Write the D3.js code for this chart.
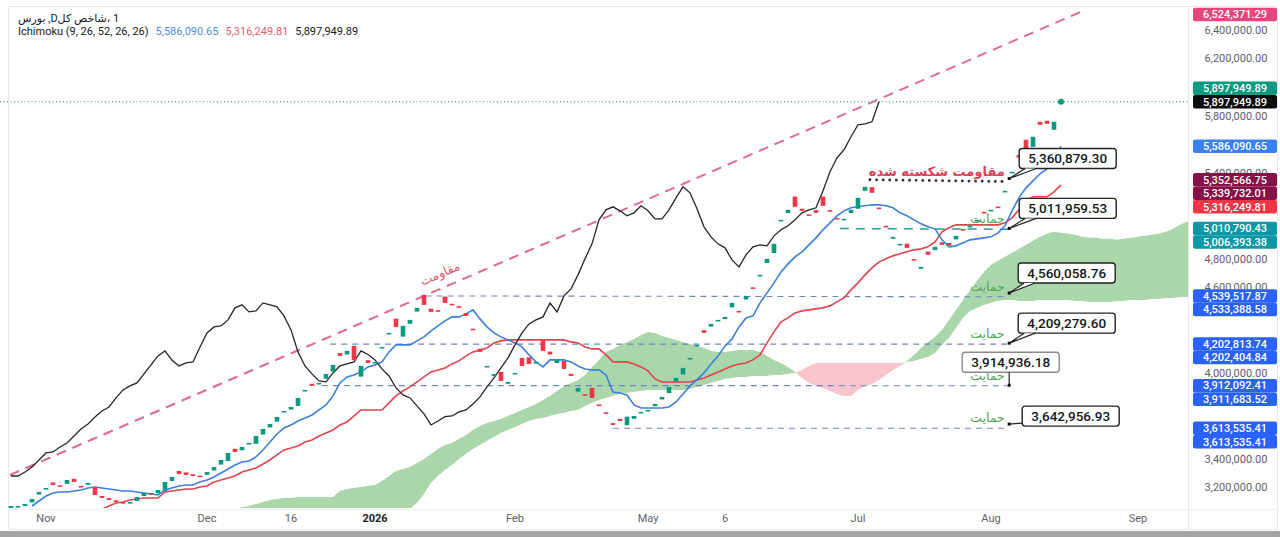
<!DOCTYPE html>
<html>
<head>
<meta charset="utf-8">
<script src="https://cdnjs.cloudflare.com/ajax/libs/d3/7.8.5/d3.min.js"></script>
<style>
body { margin: 0; background: #fff; }
svg { display: block; font-family: Roboto, "DejaVu Sans", sans-serif; }
</style>
</head>
<body>
<svg id="chart" width="1280" height="537"></svg>
<script>
// all prices in thousands, one entry per daily bar (bar 0 .. 150)
var closes = [3070,3070,3084,3119,3168,3196,3217,3210,3252,3238,
  3203,3231,3147,3126,3112,3098,3091,3098,3133,3161,
  3154,3182,3238,3273,3294,3287,3280,3280,3308,3343,
  3392,3441,3448,3483,3511,3560,3609,3644,3693,3735,
  3763,3826,3882,3910,3931,3994,4057,4120,4155,4090,
  4050,4071,4078,4183,4281,4323,4330,4372,4456,4477,
  4428,4435,4491,4477,4463,4400,4302,4148,4050,3994,
  3945,3938,4001,4050,4064,4078,4155,4130,4092,4029,
  3980,3896,3847,3826,3770,3714,3637,3665,3695,3700,
  3728,3742,3784,3833,3903,3966,4036,4106,4197,4281,
  4344,4372,4393,4491,4428,4540,4589,4687,4799,4904,
  5072,5142,5163,5135,5100,5121,5170,5135,5079,5079,
  5142,5226,5303,5261,5149,5023,4953,4904,4876,4792,
  4743,4827,4883,4897,4890,4960,5002,5030,5072,5121,
  5142,5156,5275,5408,5506,5562,5653,5737,5744,5758,
  5897.95];
var opens = [3055,3060,3070,3095,3150,3185,3235,3215,3225,3260,
  3210,3218,3203,3140,3125,3110,3098,3093,3105,3140,
  3160,3160,3175,3245,3315,3305,3292,3283,3288,3318,
  3360,3385,3470,3460,3500,3505,3570,3620,3660,3730,
  3745,3770,3875,3925,3920,3960,4010,4140,4130,4190,
  3975,4090,4070,4175,4272,4380,4255,4345,4430,4547,
  4450,4440,4535,4485,4468,4420,4310,4170,4040,3980,
  4008,3925,3995,4106,4110,4070,4230,4150,4070,4085,
  3995,3870,3852,3896,3780,3725,3650,3680,3635,3680,
  3722,3735,3768,3815,3860,3940,3990,4100,4190,4300,
  4325,4365,4378,4460,4435,4515,4600,4678,4770,4840,
  5065,5120,5235,5150,5110,5140,5235,5140,5085,5070,
  5120,5150,5275,5300,5158,5030,4940,4895,4905,4798,
  4730,4850,4860,4915,4910,4935,5008,5025,5065,5128,
  5138,5165,5265,5398,5525,5632,5583,5758,5765,5702,
  5890];

var tenkanStart = 3;
var tenkan = [3070,3105,3140,3161,3168,3168,3175,3182,3196,3203,
  3196,3189,3182,3175,3175,3168,3161,3154,3147,3182,
  3196,3210,3217,3217,3238,3252,3273,3301,3329,3357,
  3378,3385,3413,3462,3518,3574,3616,3637,3665,3686,
  3707,3742,3777,3840,3931,3973,3987,4008,4043,4057,
  4078,4148,4197,4197,4197,4225,4253,4295,4330,4365,
  4393,4393,4414,4442,4379,4323,4281,4253,4232,4211,
  4183,4127,4078,4043,4092,4092,4092,4078,4050,4029,
  4022,4022,3987,3868,3861,3847,3777,3756,3756,3756,
  3756,3763,3798,3854,3910,3952,4001,4064,4120,4190,
  4239,4323,4386,4400,4491,4561,4631,4708,4764,4813,
  4848,4897,4946,5002,5051,5100,5135,5156,5163,5170,
  5177,5177,5170,5156,5121,5100,5072,5044,5023,5009,
  4932,4883,4890,4911,4932,4939,4946,4953,4981,5030,
  5135,5226,5296,5345,5394,5429,5492,5586.09];

var kijunStart = 13;
var kijun = [3049,3070,3091,3098,3112,3119,3126,3126,3126,3168,
  3175,3182,3189,3189,3203,3210,3238,3252,3266,3280,
  3308,3322,3336,3364,3392,3427,3462,3476,3490,3518,
  3532,3560,3581,3602,3637,3658,3700,3742,3742,3742,
  3742,3791,3840,3875,3903,3938,3973,4008,4022,4036,
  4064,4085,4120,4148,4162,4176,4211,4225,4232,4232,
  4232,4232,4232,4232,4232,4232,4232,4218,4211,4183,
  4169,4169,4127,4078,4078,4078,4064,4043,4015,3959,
  3938,3938,3938,3938,3938,3952,3966,3987,4008,4029,
  4050,4064,4071,4092,4127,4211,4288,4358,4386,4421,
  4435,4442,4449,4456,4470,4498,4526,4582,4631,4687,
  4736,4778,4799,4820,4834,4848,4862,4869,4883,4918,
  4988,5016,5037,5037,5037,5037,5037,5037,5037,5051,
  5086,5142,5205,5233,5233,5233,5268,5316.25];

// leading spans, already plotted 26 bars ahead (bar 32 .. 169)
var spanStart = 32;
var spanA = [3042,3063,3070,3084,3098,3112,3119,3126,3126,3133,
  3133,3133,3133,3133,3133,3175,3189,3196,3203,3210,
  3217,3245,3280,3315,3329,3343,3371,3399,3434,3469,
  3497,3511,3539,3567,3602,3630,3651,3665,3679,3700,
  3721,3742,3763,3784,3812,3840,3875,3910,3931,3952,
  3987,4043,4092,4148,4169,4197,4218,4239,4267,4288,
  4281,4260,4246,4232,4218,4204,4190,4176,4155,4148,
  4148,4155,4162,4162,4162,4148,4120,4092,4071,4043,
  4008,3966,3931,3910,3896,3875,3854,3840,3840,3882,
  3910,3924,3952,3987,4022,4050,4085,4127,4176,4218,
  4253,4302,4372,4442,4512,4582,4645,4708,4757,4785,
  4813,4841,4869,4897,4925,4953,4974,4988,4981,4974,
  4967,4953,4946,4946,4939,4939,4932,4939,4946,4953,
  4960,4967,4974,4988,5009,5037,5058,5079];
var spanB = [2560,2575,2590,2600,2610,2620,2630,2640,2650,2660,
  2670,2680,2690,2700,2720,2740,2760,2780,2800,2815,
  2832,2902,2958,2986,3021,3049,3091,3154,3231,3280,
  3322,3357,3399,3434,3469,3497,3525,3553,3581,3602,
  3623,3644,3665,3679,3686,3700,3714,3721,3735,3742,
  3770,3791,3812,3826,3840,3854,3861,3868,3875,3882,
  3882,3882,3882,3882,3882,3889,3903,3917,3931,3945,
  3959,3966,3973,3973,3980,3980,3980,3987,3987,3994,
  4001,4022,4050,4071,4071,4071,4071,4071,4071,4071,
  4071,4071,4071,4071,4071,4071,4078,4085,4099,4113,
  4141,4197,4246,4316,4386,4435,4456,4477,4491,4505,
  4512,4512,4505,4505,4505,4512,4512,4512,4512,4512,
  4505,4505,4498,4498,4498,4498,4505,4505,4512,4512,
  4512,4519,4519,4526,4526,4533,4533,4533];
var chikouShift = 26;

var xTickLabels = ["Nov", "Dec", "16", "2026", "Feb", "May", "6", "Jul", "Aug", "Sep"];
var xTickBars = [5, 28, 40, 52, 72, 91, 102, 121, 140, 161];

// drawings
var trendBars = [-0.15, 152.7];
var trendValues = [3287000, 6524371.29];
var lineStartBars = [122.7, 118.4, 59.2, 45.6, 44.4, 86.0];
var lineEndBar = 142.4;
var lineStartValues = [5352566.75, 5010790.43, 4539517.87, 4202813.74, 3912092.41, 3613535.41];
var lineEndValues = [5339732.01, 5006393.38, 4533388.58, 4202404.84, 3911683.52, 3613535.41];
var lineTexts = ["مقاومت شکسته شده", "حمایت", "حمایت", "حمایت", "حمایت", "حمایت"];
var calloutBar = 142.6;
var calloutValues = [5360879.30, 5011959.53, 4560058.76, 4209279.60, 3914936.18, 3642956.93];

var priceLabels = [6524371.29, 5897949.89, 5897949.89, 5586090.65, 5352566.75, 5339732.01, 5316249.81,
  5010790.43, 5006393.38, 4539517.87, 4533388.58, 4202813.74, 4202404.84, 3912092.41, 3911683.52,
  3613535.41, 3613535.41];
var legendValues = [5586090.65, 5316249.81, 5897949.89];

var K = 1000;
var W = 1280, H = 537, plotRight = 1188, plotTop = 8, plotBottom = 508;
var green = "#089981", red = "#f23645";
var tenkanColor = "#3b7fe0", kijunColor = "#e2434f";

var x = d3.scaleLinear().domain([0, 150]).range([11, 1061]);
var y = d3.scaleLinear().domain([3056000, 6554000]).range([plotBottom, plotTop]);
var fmt = d3.format(",.2f");

var svg = d3.select("#chart");
svg.append("rect").attr("width", W).attr("height", H).attr("fill", "#fff");

var defs = svg.append("defs");
defs.append("clipPath").attr("id", "plot").append("rect")
    .attr("x", 0).attr("y", plotTop).attr("width", plotRight).attr("height", plotBottom - plotTop);

var cloud = spanA.map(function(a, k) { return {i: k + spanStart, a: a * K, b: spanB[k] * K}; });
defs.append("clipPath").attr("id", "aboveB").append("path")
    .attr("d", d3.area().x(function(d) { return x(d.i); }).y0(-1000).y1(function(d) { return y(d.b); })(cloud));
defs.append("clipPath").attr("id", "belowB").append("path")
    .attr("d", d3.area().x(function(d) { return x(d.i); }).y0(2000).y1(function(d) { return y(d.b); })(cloud));

// frame
svg.append("rect").attr("x", 8.5).attr("y", 6.5).attr("width", 1269).attr("height", 523)
    .attr("fill", "none").attr("stroke", "#e6e8ee");
svg.append("line").attr("x1", plotRight + 0.5).attr("x2", plotRight + 0.5).attr("y1", 6).attr("y2", 530)
    .attr("stroke", "#e6e8ee");
svg.append("line").attr("x1", 8).attr("x2", 1278).attr("y1", plotBottom + 1.5).attr("y2", plotBottom + 1.5)
    .attr("stroke", "#eceef2");
svg.append("rect").attr("x", 0).attr("y", 531).attr("width", W).attr("height", 6).attr("fill", "#a4a4a4");

var g = svg.append("g").attr("clip-path", "url(#plot)");

var cloudArea = d3.area()
    .x(function(d) { return x(d.i); })
    .y0(function(d) { return y(d.b); })
    .y1(function(d) { return y(d.a); });
g.append("path").attr("d", cloudArea(cloud)).attr("fill", "#a9d6aa").attr("clip-path", "url(#aboveB)");
g.append("path").attr("d", cloudArea(cloud)).attr("fill", "#f8c5ce").attr("clip-path", "url(#belowB)");

// horizontal level lines
var lineStroke = ["#3c2a32", "#2a9d8f", "#6f86b8", "#6f86b8", "#6f86b8", "#6f86b8"];
var lineDash = ["0.1,6.5", "9,7", "6,5", "6,5", "6,5", "6,5"];
var lineWidth = [2.8, 1.5, 1.1, 1.1, 1.1, 1.1];
lineStartValues.forEach(function(v, k) {
    g.append("line")
        .attr("x1", x(lineStartBars[k])).attr("y1", y(v))
        .attr("x2", x(lineEndBar)).attr("y2", y(lineEndValues[k]))
        .attr("stroke", lineStroke[k]).attr("stroke-width", lineWidth[k])
        .attr("stroke-dasharray", lineDash[k]).attr("stroke-linecap", k == 0 ? "round" : "butt");
});

// resistance trend line
g.append("line")
    .attr("x1", x(trendBars[0])).attr("y1", y(trendValues[0]))
    .attr("x2", x(trendBars[1])).attr("y2", y(trendValues[1]))
    .attr("stroke", "#e06b8b").attr("stroke-width", 2).attr("stroke-dasharray", "10,7");

// last price line
g.append("line").attr("x1", 0).attr("x2", plotRight)
    .attr("y1", y(closes[150] * K)).attr("y2", y(closes[150] * K))
    .attr("stroke", green).attr("stroke-width", 1).attr("stroke-dasharray", "1,2.5");

var line = d3.line().x(function(d) { return x(d[0]); }).y(function(d) { return y(d[1] * K); });
g.append("path").attr("d", line(kijun.map(function(v, k) { return [k + kijunStart, v]; })))
    .attr("fill", "none").attr("stroke", kijunColor).attr("stroke-width", 1.6);
g.append("path").attr("d", line(tenkan.map(function(v, k) { return [k + tenkanStart, v]; })))
    .attr("fill", "none").attr("stroke", tenkanColor).attr("stroke-width", 1.6);
g.append("path").attr("d", line(closes.slice(chikouShift).map(function(v, k) { return [k, v]; })))
    .attr("fill", "none").attr("stroke", "#262626").attr("stroke-width", 1.3);

// candles
var bw = 4.6;
g.append("g").selectAll("rect")
    .data(d3.range(closes.length))
    .enter().append("rect")
    .attr("x", function(i) { return x(i) - bw / 2; })
    .attr("y", function(i) { return y(Math.max(opens[i], closes[i]) * K); })
    .attr("width", bw)
    .attr("height", function(i) { return Math.max(1.6, Math.abs(y(opens[i] * K) - y(closes[i] * K))); })
    .attr("fill", function(i) { return closes[i] >= opens[i] ? green : red; });

g.append("circle").attr("cx", x(150)).attr("cy", y(closes[150] * K)).attr("r", 3).attr("fill", green);

// annotation texts
var ang = Math.atan2(y(trendValues[1]) - y(trendValues[0]), x(trendBars[1]) - x(trendBars[0])) * 180 / Math.PI;
var tb = 62.1;
var tv = trendValues[0] + (trendValues[1] - trendValues[0]) * (tb - trendBars[0]) / (trendBars[1] - trendBars[0]);
svg.append("text")
    .attr("transform", "translate(" + x(tb) + "," + y(tv) + ") rotate(" + ang + ")")
    .attr("y", -10).attr("text-anchor", "middle")
    .attr("fill", "#e2566f").attr("font-family", "DejaVu Sans").attr("font-size", 12.5)
    .text("مقاومت");

lineTexts.forEach(function(t, k) {
    svg.append("text")
        .attr("x", x(lineEndBar) - 3)
        .attr("y", y(lineEndValues[k]) - 6)
        .attr("text-anchor", "end")
        .attr("fill", k == 0 ? "#e03c56" : "#52a655")
        .attr("font-family", "DejaVu Sans").attr("font-size", k == 0 ? 13 : 12.5)
        .attr("font-weight", k == 0 ? 600 : "normal")
        .text(t);
});

// callouts
var boxW = 97, boxH = 20;
var boxDx = [10, 10, 9, 9, -47, 13];
var boxDy = [-30, -30, -30, -30, -33, -18];
var boxStroke = ["#222", "#222", "#222", "#222", "#8a8a8a", "#222"];
calloutValues.forEach(function(v, k) {
    var px = x(calloutBar), py = y(v);
    var bx = px + boxDx[k], by = py + boxDy[k];
    var cg = svg.append("g");
    cg.append("rect").attr("x", bx).attr("y", by).attr("width", boxW).attr("height", boxH)
        .attr("rx", 3).attr("fill", "#fff").attr("stroke", boxStroke[k]).attr("stroke-width", 1.4);
    if (boxDx[k] < 0) {
        cg.append("line").attr("x1", px).attr("x2", px).attr("y1", by + boxH).attr("y2", py)
            .attr("stroke", "#222").attr("stroke-width", 1.2);
    } else if (by + boxH > py) {
        cg.append("line").attr("x1", bx).attr("y1", by + boxH - 3).attr("x2", px).attr("y2", py)
            .attr("stroke", "#222").attr("stroke-width", 1.2);
    } else {
        cg.append("path")
            .attr("d", "M" + (bx + 6) + "," + (by + boxH) + "L" + px + "," + py + "L" + (bx + 17) + "," + (by + boxH))
            .attr("fill", "#fff").attr("stroke", "#222").attr("stroke-width", 1.2);
    }
    cg.append("rect").attr("x", px - 1.5).attr("y", py - 1.5).attr("width", 3).attr("height", 3).attr("fill", "#111");
    cg.append("text").attr("x", bx + boxW / 2).attr("y", by + boxH / 2).attr("dy", "0.36em")
        .attr("text-anchor", "middle").attr("font-size", 13.5).attr("font-weight", 500).attr("fill", "#131722")
        .text(fmt(v));
});

// legend
var lg = svg.append("g").attr("font-size", 11);
lg.append("text").attr("x", 18).attr("y", 22).attr("fill", "#131722")
    .text("بورس\u200E ,Dشاخص کل\u200E، 1");
var lx = 18;
var legendParts = [["Ichimoku (9, 26, 52, 26, 26)", "#131722"],
    [fmt(legendValues[0]), "#4a8fe6"], [fmt(legendValues[1]), "#ea5b68"], [fmt(legendValues[2]), "#131722"]];
legendParts.forEach(function(p) {
    var t = lg.append("text").attr("x", lx).attr("y", 35).attr("fill", p[1]).text(p[0]);
    lx += t.node().getComputedTextLength() + 7;
});

// right price axis: place labels first so ticks they cover can be left out
var axisX = 1236;
var plColors = ["#e5467c", green, "#0b0b0b", "#3b82f0", "#861147", "#861147", red,
    "#0b97a5", "#0b97a5", "#2962ff", "#2962ff", "#2962ff", "#2962ff", "#2962ff", "#2962ff", "#2962ff", "#2962ff"];
var plUp = [0, 1, 0, 0, 0, 0, 0, 0, 0, 0, 0, 0, 0, 0, 0, 0, 0];
var order = [0, 2, 1, 3, 4, 5, 6, 7, 8, 9, 10, 11, 12, 13, 14, 15, 16];
var placed = {}, lowest = -1e9, prevY = null;
order.forEach(function(i) {
    var yy = Math.max(y(priceLabels[i]), plotTop + 6.5);
    if (plUp[i] && prevY !== null && Math.abs(yy - prevY) < 13.5) yy = prevY - 13.5;
    else if (yy < lowest + 13.5) yy = lowest + 13.5;
    placed[i] = yy; prevY = yy; lowest = Math.max(lowest, yy);
});
var placedY = Object.keys(placed).map(function(k) { return placed[k]; });

var ticks = d3.range(3200000, 6400001, 200000).filter(function(t) {
    return placedY.every(function(p) { return Math.abs(p - y(t)) >= 6.5; });
});
svg.append("g").selectAll("text").data(ticks).enter().append("text")
    .attr("x", axisX).attr("y", function(d) { return y(d); }).attr("dy", "0.35em")
    .attr("text-anchor", "middle").attr("font-size", 11).attr("fill", "#5d606b")
    .text(function(d) { return fmt(d); });

var pl = svg.append("g");
priceLabels.forEach(function(v, i) {
    pl.append("rect").attr("x", 1193).attr("y", placed[i] - 6.75).attr("width", 84).attr("height", 13.5)
        .attr("rx", 2).attr("fill", plColors[i]);
    pl.append("text").attr("x", axisX - 1).attr("y", placed[i]).attr("dy", "0.35em")
        .attr("text-anchor", "middle").attr("font-size", 11).attr("font-weight", 500).attr("fill", "#fff")
        .text(fmt(v));
});

// time axis
svg.append("g").selectAll("text").data(xTickBars).enter().append("text")
    .attr("x", function(d) { return x(d); }).attr("y", 522)
    .attr("text-anchor", "middle").attr("font-size", 11)
    .attr("font-weight", function(d, i) { return xTickLabels[i] == "2026" ? "bold" : "normal"; })
    .attr("fill", function(d, i) { return xTickLabels[i] == "2026" ? "#222" : "#5d606b"; })
    .text(function(d, i) { return xTickLabels[i]; });
</script>
</body>
</html>
